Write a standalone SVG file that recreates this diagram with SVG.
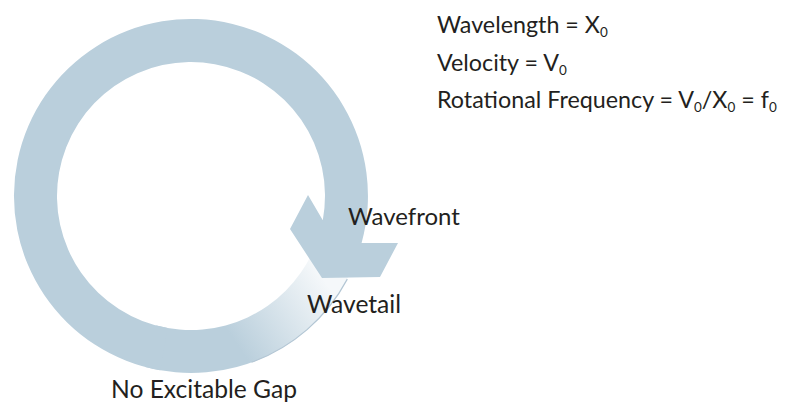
<svg xmlns="http://www.w3.org/2000/svg" width="796" height="403" viewBox="0 0 796 403">
  <defs>
    <!-- fade of the refractory tail toward the wavefront -->
    <linearGradient id="tailFade" gradientUnits="userSpaceOnUse" x1="238" y1="346" x2="328" y2="286">
      <stop offset="0" stop-color="#bacfdc"/>
      <stop offset="1" stop-color="#f5f8fa"/>
    </linearGradient>
    <style>
      .lbl { font-family: Lato, "Open Sans", "Liberation Sans", sans-serif; font-size: 23.3px; fill: #231f20; }
      .big { font-size: 24.6px; }
      .sub { font-size: 13.5px; }
      .ring { fill: #bacfdc; }
    </style>
  </defs>

  <rect width="796" height="403" fill="#ffffff"/>

  <!-- circuit: fading tail, then the solid ring ending in the arrowhead -->
  <g id="reentry-ring">
    <path id="wavetail-band" d="M145.2 367 A177 177 0 0 0 351.4 270.8 L312.4 252.6 A134 134 0 0 1 156.3 325.4 Z" fill="url(#tailFade)"/>
    <path d="M251.5 362.3 A177 177 0 0 0 347.3 279.1" fill="none" stroke="#b3c6d4" stroke-width="1.2"/>
    <path id="wavefront-band" class="ring" d="M322.8 220.2 A134 134 0 1 0 167.7 328 L160.3 370.3 A177 177 0 1 1 361.6 243 L398 243 L380 277 L322 278 L290 229 L308 195 Z"/>
  </g>

  <g id="label-wavefront"><text class="lbl" x="348" y="225" style="font-size:24px">Wavefront</text></g>
  <g id="label-wavetail"><text class="lbl big" x="307" y="313">Wavetail</text></g>
  <g id="label-gap"><text class="lbl big" x="111" y="398">No Excitable Gap</text></g>

  <g id="formulas">
    <text class="lbl" x="437" y="33">Wavelength = X<tspan class="sub" dy="4">0</tspan></text>
    <text class="lbl" x="437" y="71">Velocity = V<tspan class="sub" dy="4">0</tspan></text>
    <text class="lbl" x="437" y="108">Rotational Frequency = V<tspan class="sub" dy="4">0</tspan><tspan dy="-4">/X</tspan><tspan class="sub" dy="4">0</tspan><tspan dy="-4"> = f</tspan><tspan class="sub" dy="4">0</tspan></text>
  </g>

  <g id="connectors"/>
</svg>
